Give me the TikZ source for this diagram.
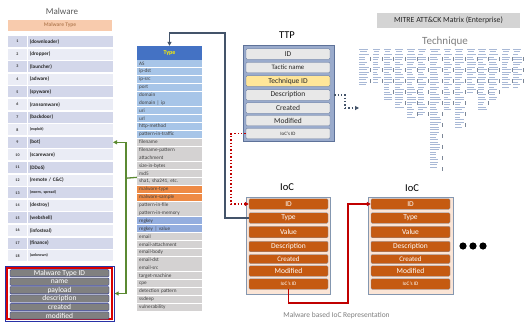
\documentclass[tikz,border=0pt]{standalone}
\usepackage{fontspec}
\setmainfont{Carlito}
\usetikzlibrary{arrows.meta,calc}
\definecolor{slate}{HTML}{44546A}
\definecolor{mA}{HTML}{D3D7EA}
\definecolor{mB}{HTML}{EAECF5}
\definecolor{mhead}{HTML}{F8CBAD}
\definecolor{mheadtxt}{HTML}{B9825A}
\definecolor{tb}{HTML}{A7C5E8}
\definecolor{tg}{HTML}{D4D2D2}
\definecolor{to}{HTML}{EE8A45}
\definecolor{tm}{HTML}{94AEDF}
\definecolor{thead}{HTML}{4472C4}
\definecolor{ttpfr}{HTML}{9AABCC}
\definecolor{ttpbd}{HTML}{5E7299}
\definecolor{ttprow}{HTML}{E8E8E8}
\definecolor{techy}{HTML}{FFE699}
\definecolor{iocfr}{HTML}{FBE5D6}
\definecolor{iocbd}{HTML}{8497B0}
\definecolor{iocrow}{HTML}{C55A11}
\definecolor{darkred}{HTML}{C00000}
\definecolor{grn}{HTML}{5B8A32}
\definecolor{txtg}{HTML}{7F7F7F}
\definecolor{mline}{HTML}{A9B9D6}
\tikzset{
  mnum/.style={minimum width=19pt,minimum height=11pt,inner sep=0pt,font=\fontsize{4}{4}\selectfont\bfseries,text=black!80},
  mrow/.style={anchor=west,text width=81pt,inner xsep=2pt,inner ysep=0pt,minimum height=11pt,align=left,font=\fontsize{5.2}{6}\selectfont\bfseries,text=black!85},
  trow/.style={anchor=west,text width=61pt,inner xsep=2pt,inner ysep=0pt,minimum height=7pt,align=left,font=\fontsize{5.2}{5.5}\selectfont,text=black!75},
  ttprowst/.style={draw=ttpbd,fill=ttprow,rounded corners=1.2pt,minimum width=84pt,minimum height=10.5pt,inner sep=0pt,font=\fontsize{7.5}{8}\selectfont,text=black!85},
  iocrowst/.style={draw=iocbd,fill=iocrow,rounded corners=1.2pt,minimum width=79pt,minimum height=10.5pt,inner sep=0pt,font=\fontsize{7.5}{8}\selectfont,text=white},
  mtid/.style={draw=slate!70!blue,fill=black!50,rounded corners=1pt,minimum width=99pt,minimum height=7.3pt,inner sep=0pt,font=\fontsize{7.5}{7.5}\selectfont,text=white},
  tip/.style={-{Triangle[length=4pt,width=4pt]}},
}
\begin{document}
\begin{tikzpicture}[x=1pt,y=-1pt]
\useasboundingbox[fill=white] (0,0) rectangle (529,324);

% ---------- Malware table ----------
\node[font=\fontsize{9}{10}\selectfont,text=black!65] (maltitle) at (62,11) {Malware};
\node[fill=mhead,minimum width=104pt,minimum height=11pt,inner sep=0pt,font=\fontsize{5.5}{6}\selectfont\bfseries,text=mheadtxt] (mhdr) at (60,25.5) {Malware Type};
\foreach \t [count=\i] in {{(downloader)},{(dropper)},{(launcher)},{(adware)},{(spyware)},{(ransomware)},{(backdoor)},{{\fontsize{4}{4}\selectfont(exploit)}},{(bot)},{(scareware)},{(DDoS)},{(remote / C\&C)},{{\fontsize{4}{4}\selectfont(worm, spread)}},{(destroy)},{(webshell)},{(infosteal)},{(finance)},{{\fontsize{4}{4}\selectfont(unknown)}}}{
  \pgfmathsetmacro\yy{41.5+(\i-1)*12.6}
  \ifodd\i\relax\def\rc{mA}\else\def\rc{mB}\fi
  \node[mnum,fill=\rc] (mn\i) at (17.5,\yy) {\i};
  \node[mrow,fill=\rc] (m\i) at (27.6,\yy) {\t};
}

% Malware Type ID box
\node[draw=slate!60!blue,line width=0.5pt,minimum width=109pt,minimum height=55pt,inner sep=0pt] (mboxo) at (59.5,293.5) {};
\node[draw=red!85!black,line width=2.4pt,fill=white,minimum width=105pt,minimum height=51pt,inner sep=0pt] (mbox) at (59.5,293.5) {};
\foreach \t [count=\i] in {Malware Type ID,name,payload,description,created,modified}{
  \pgfmathsetmacro\yy{273.2+(\i-1)*8.45}
  \node[mtid] (mt\i) at (59.5,\yy) {\t};
}

% ---------- Type table ----------
\node[fill=thead,minimum width=65pt,minimum height=14pt,inner sep=0pt,font=\fontsize{6}{6}\selectfont\bfseries,text=yellow] (thdr) at (169.5,53) {Type};
\foreach \c/\t [count=\i] in {tb/AS,tb/ip-dst,tb/ip-src,tb/port,tb/domain,tb/domain | ip,tb/uri,tb/url,tb/http-method,tb/pattern-in-traffic,tg/filename,tg/filename-pattern,tg/attachment,tg/size-in-bytes,tg/md5,{tg/sha1, sha241, etc.},to/malware-type,to/malware-sample,tg/pattern-in-file,tg/pattern-in-memory,tm/regkey,tm/regkey | value,tg/email,tg/email-attachment,tg/email-body,tg/email-dst,tg/email-src,tg/target-machine,tg/cpe,tg/detection pattern,tg/ssdeep,tg/vulnerability}{
  \pgfmathsetmacro\yy{63.6+(\i-1)*7.86}
  \node[trow,fill=\c] (t\i) at (137,\yy) {\t};
}

% ---------- TTP ----------
\node[font=\fontsize{10.5}{11}\selectfont] (ttptitle) at (287,35.5) {TTP};
\node[draw=ttpbd,fill=ttpfr,line width=0.8pt,minimum width=91pt,minimum height=96pt,inner sep=0pt] (ttp) at (288.5,93) {};
\node[ttprowst] (ttpid) at (288,54) {ID};
\node[ttprowst,font=\fontsize{6.8}{7}\selectfont] (ttptac) at (288,67.5) {Tactic name};
\node[ttprowst,fill=techy] (ttptech) at (288,81) {Technique ID};
\node[ttprowst] (ttpdesc) at (288,95) {Description};
\node[ttprowst] (ttpcre) at (288,108) {Created};
\node[ttprowst] (ttpmod) at (288,120.5) {Modified};
\node[ttprowst,font=\fontsize{5}{5}\selectfont] (ttpioc) at (288,133.5) {IoC's ID};

% ---------- MITRE ----------
\node[fill=black!17,minimum width=143pt,minimum height=15pt,inner sep=0pt,font=\fontsize{7.8}{8}\selectfont,text=black!85] (mitre) at (448.5,20.5) {MITRE ATT\&CK Matrix (Enterprise)};
\node[font=\fontsize{11}{12}\selectfont,text=txtg] (tech) at (445,42) {Technique};
\pgfmathsetseed{7}
\foreach \cx/\cw/\cb in {359/11/85,373/9/83,384/9/100,395/10/107,407/10/117,418/10/115,430/12/168,444/9/110,455/10/128,467/10/93,478/10/110,489/10/100,502/10/88,513/10/88}{
  \draw[mline,line width=0.5pt] (\cx,49) -- ++(\cw*0.8,0);
  \draw[mline,line width=0.5pt] (\cx+1,51) -- ++(\cw*0.6,0);
  \foreach \yy in {54.5,57,...,\cb}{
    \pgfmathsetmacro\ll{\cw*(0.45+0.5*rnd)}
    \draw[mline,line width=0.55pt] (\cx,\yy) -- ++(\ll,0);
  }
  \foreach \yy in {57,68,...,\cb}{
    \draw[slate!70,line width=0.6pt] (\cx+\cw,\yy) -- ++(0,4);
  }
}

% ---------- IoC boxes ----------
\node[font=\fontsize{10.5}{11}\selectfont] (ioc1title) at (287,187) {IoC};
\node[draw=iocbd,fill=iocfr,line width=0.8pt,minimum width=84pt,minimum height=97pt,inner sep=0pt] (ioc1) at (288,245.5) {};
\node[iocrowst] (i1id) at (288.5,204) {ID};
\node[iocrowst] (i1type) at (288.5,218) {Type};
\node[iocrowst,minimum height=11.5pt] (i1val) at (288.5,232) {Value};
\node[iocrowst] (i1desc) at (288.5,246.5) {Description};
\node[iocrowst,minimum height=9pt,font=\fontsize{7}{7}\selectfont] (i1cre) at (288.5,259) {Created};
\node[iocrowst] (i1mod) at (288.5,271) {Modified};
\node[iocrowst,font=\fontsize{5.2}{5.5}\selectfont] (i1ioc) at (288.5,284) {IoC's ID};

\node[font=\fontsize{10.5}{11}\selectfont] (ioc2title) at (412,188) {IoC};
\node[draw=iocbd,fill=iocfr,line width=0.8pt,minimum width=85pt,minimum height=97pt,inner sep=0pt] (ioc2) at (410.5,245.5) {};
\node[iocrowst] (i2id) at (410.5,204) {ID};
\node[iocrowst] (i2type) at (410.5,218) {Type};
\node[iocrowst,minimum height=11.5pt] (i2val) at (410.5,232) {Value};
\node[iocrowst] (i2desc) at (410.5,246.5) {Description};
\node[iocrowst,minimum height=9pt,font=\fontsize{7}{7}\selectfont] (i2cre) at (410.5,259) {Created};
\node[iocrowst] (i2mod) at (410.5,271) {Modified};
\node[iocrowst,font=\fontsize{5.2}{5.5}\selectfont] (i2ioc) at (410.5,284) {IoC's ID};

\fill[black] (463,246) circle (3.6pt) (473,246) circle (3.6pt) (483,246) circle (3.6pt);

\node[font=\fontsize{7.5}{8}\selectfont,text=txtg] (caption) at (336.5,315) {Malware based IoC Representation};

% ---------- Connectors ----------
% green
\coordinate (gj) at (126,178.2);
\draw[grn,line width=1.3pt] ($(t15.south west)$) -- (gj);
\draw[grn,line width=1.3pt,tip] (gj) |- (m9.east);
\draw[grn,line width=1.3pt,tip] (gj) |- ([xshift=1.5pt]mbox.east);
% slate
\coordinate (sc1) at (225,33);
\draw[slate,line width=1.3pt,tip] (i1type.west) -| (sc1) -| (thdr.north);
% red dotted
\coordinate (rc1) at (231,204);
\draw[darkred,line width=1.4pt,dotted,tip] (ttpioc.west) -| (rc1) -- (i1id.west);
% blue dotted
\coordinate (bc1) at (345,108);
\coordinate (mx) at (359,108);
\draw[slate,line width=1.3pt,dotted] (ttp.east |- ttpdesc.east) -| (bc1);
\draw[slate,line width=1.3pt,dotted,tip] (bc1) -- (mx);
% red solid
\coordinate (rs1) at (348,303);
\draw[darkred,line width=1.3pt,tip] (i1ioc.south) |- (rs1) |- (i2id.west);
\end{tikzpicture}
\end{document}
